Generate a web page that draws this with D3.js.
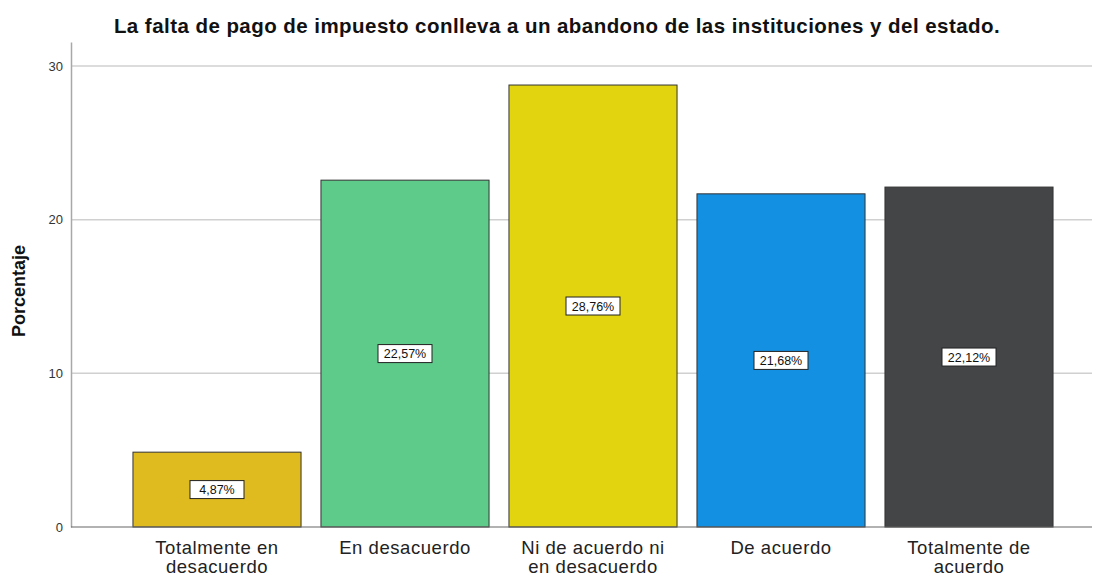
<!DOCTYPE html>
<html><head><meta charset="utf-8">
<script src="https://cdn.jsdelivr.net/npm/d3@7"></script>
<style>body{margin:0;background:#fff;} svg{display:block;font-family:Arial,"Liberation Sans",sans-serif;}</style>
</head><body>
<svg id="c" width="1103" height="576"></svg>
<script>
const categories = [["Totalmente en","desacuerdo"],["En desacuerdo"],["Ni de acuerdo ni","en desacuerdo"],["De acuerdo"],["Totalmente de","acuerdo"]];
const values = [4.87, 22.57, 28.76, 21.68, 22.12];
const valueLabels = ["4,87%","22,57%","28,76%","21,68%","22,12%"];
const colors = ["#e0bb1f","#5ecb8b","#e2d50f","#1490e2","#434547"];
const yTicks = [0,10,20,30];
const title = "La falta de pago de impuesto conlleva a un abandono de las instituciones y del estado.";

const svg = d3.select("#c");
const mLeft = 71, mRight = 1092, mBase = 527, mTop = 42;
const x = d3.scaleBand().domain(d3.range(values.length)).range([123,1063]).paddingInner(0.106).paddingOuter(0.053);
const y = d3.scaleLinear().domain([0,31.56]).range([mBase, mTop]);

// gridlines
svg.append("g").selectAll("line").data(yTicks.filter(d=>d>0)).join("line")
  .attr("x1",mLeft).attr("x2",mRight).attr("y1",d=>y(d)).attr("y2",d=>y(d))
  .attr("stroke","#d0d0d0").attr("stroke-width",1.5);

// y axis
const ya = svg.append("g").attr("transform",`translate(${mLeft},0)`)
  .call(d3.axisLeft(y).tickValues(yTicks).tickSize(0).tickPadding(8));
ya.select(".domain").attr("stroke","#a8a8a8").attr("stroke-width",1.5);
ya.selectAll("text").attr("font-size",13).attr("fill","#333").attr("font-family","Arial,'Liberation Sans',sans-serif");

// bars
svg.append("g").selectAll("rect").data(values).join("rect")
  .attr("x",(d,i)=>x(i)).attr("width",x.bandwidth())
  .attr("y",d=>y(d)).attr("height",d=>mBase-y(d))
  .attr("fill",(d,i)=>colors[i]).attr("stroke","#333").attr("stroke-width",1);

// baseline
svg.append("line").attr("x1",mLeft).attr("x2",mRight).attr("y1",mBase).attr("y2",mBase)
  .attr("stroke","#666").attr("stroke-width",1.2);

// value labels
const lg = svg.append("g").selectAll("g").data(values).join("g")
  .attr("transform",(d,i)=>`translate(${x(i)+x.bandwidth()/2},${y(d/2)})`);
lg.append("rect").attr("x",-27).attr("y",-9).attr("width",54).attr("height",18)
  .attr("fill","#fff").attr("stroke","#222").attr("stroke-width",1);
lg.append("text").attr("text-anchor","middle").attr("dy","0.36em").attr("font-size",12.5).attr("fill","#111")
  .text((d,i)=>valueLabels[i]);

// category labels (each line its own text element)
const cg = svg.append("g").selectAll("g").data(categories).join("g")
  .attr("transform",(d,i)=>`translate(${x(i)+x.bandwidth()/2},0)`);
cg.selectAll("text").data(d=>d).join("text")
  .attr("x",0).attr("y",(d,i)=>554+i*19)
  .attr("text-anchor","middle").attr("font-size",18.5).attr("letter-spacing",0.55).attr("fill","#222")
  .text(d=>d);

// y title
svg.append("text").attr("transform","translate(25,291) rotate(-90)")
  .attr("text-anchor","middle").attr("font-size",18).attr("font-weight","bold").attr("fill","#111").text("Porcentaje");

// title
svg.append("text").attr("x",557).attr("y",33).attr("text-anchor","middle")
  .attr("font-size",20.5).attr("letter-spacing",0.45).attr("font-weight","bold").attr("fill","#111").text(title);
</script>
</body></html>
